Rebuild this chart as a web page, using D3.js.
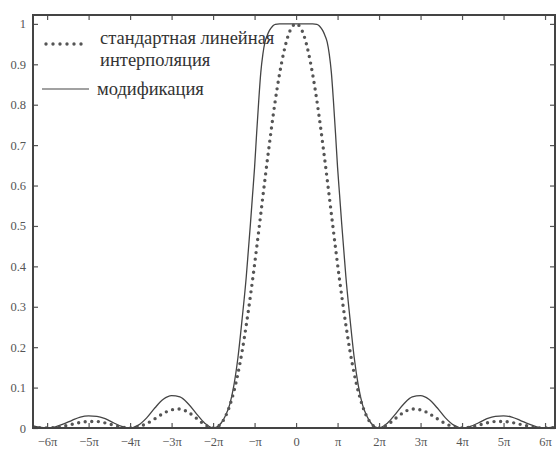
<!DOCTYPE html>
<html><head><meta charset="utf-8">
<script src="https://cdn.jsdelivr.net/npm/d3@7"></script>
<style>body{margin:0;background:#fff} text{font-family:"Liberation Serif","DejaVu Serif","Times New Roman",serif;}</style>
</head><body><svg id="c" width="557" height="451"></svg>
<script>
// x in multiples of π (positive half; curves are mirrored)
const xs      = [0,0.1,0.2,0.3,0.4,0.5,0.55,0.6,0.65,0.7,0.75,0.8,0.85,0.9,0.95,1.0,1.05,1.1,1.15,1.2,1.3,1.4,1.5,1.6,1.7,1.8,1.9,2.0,2.2,2.4,2.6,2.8,3.0,3.2,3.4,3.6,3.8,4.0,4.2,4.4,4.6,4.8,5.0,5.2,5.4,5.6,5.8,6.0,6.2,6.34];
const linear  = [1,0.992,0.968,0.928,0.875,0.811,0.775,0.737,0.697,0.657,0.615,0.573,0.530,0.488,0.446,0.405,0.365,0.327,0.290,0.255,0.190,0.135,0.090,0.055,0.029,0.012,0.003,0,0.008,0.024,0.039,0.047,0.045,0.036,0.023,0.011,0.003,0,0.002,0.007,0.0125,0.016,0.0162,0.0136,0.009,0.0045,0.001,0,0.001,0.0026];
const modif   = [1,1,1,1,1,0.999,0.996,0.99,0.982,0.97,0.955,0.925,0.88,0.81,0.73,0.645,0.575,0.505,0.44,0.375,0.27,0.175,0.105,0.058,0.031,0.013,0.003,0,0.012,0.035,0.06,0.077,0.08,0.071,0.05,0.025,0.007,0,0.004,0.013,0.023,0.029,0.03,0.027,0.019,0.01,0.003,0,0.002,0.005];
const xTicks = [-6,-5,-4,-3,-2,-1,0,1,2,3,4,5,6];
const xTickLabels = ["−6π","−5π","−4π","−3π","−2π","−π","0","π","2π","3π","4π","5π","6π"];
const yTicks = [0,0.1,0.2,0.3,0.4,0.5,0.6,0.7,0.8,0.9,1];
const yTickLabels = ["0","0.1","0.2","0.3","0.4","0.5","0.6","0.7","0.8","0.9","1"];
const legendLabels = [["стандартная линейная","интерполяция"],["модификация"]];

const L=33,R=555,T=15,B=428;
const x = d3.scaleLinear().domain([-6.34,6.24]).range([L,R]);
const y = d3.scaleLinear().domain([0,1.022]).range([B,T]);
const svg = d3.select("#c");

function mirror(vals){
  const pts=[];
  for(let i=xs.length-1;i>0;i--) pts.push([-xs[i],vals[i]]);
  for(let i=0;i<xs.length;i++) pts.push([xs[i],vals[i]]);
  return pts;
}
svg.append("clipPath").attr("id","clip").append("rect").attr("x",L).attr("y",T).attr("width",R-L).attr("height",B-T);
const line = d3.line().x(d=>x(d[0])).y(d=>y(d[1])).curve(d3.curveMonotoneX);
const g = svg.append("g").attr("clip-path","url(#clip)");
g.append("path").datum(mirror(modif)).attr("d",line).attr("fill","none").attr("stroke","#444").attr("stroke-width",1.3);
g.append("path").datum(mirror(linear)).attr("d",line).attr("fill","none").attr("stroke","#555")
 .attr("stroke-width",3.4).attr("stroke-linecap","round").attr("stroke-dasharray","0 6.6");

// axes
const ax = svg.append("g");
ax.append("g").attr("transform",`translate(0,${B})`)
  .call(d3.axisBottom(x).tickValues(xTicks).tickSize(-5).tickPadding(9).tickFormat((d,i)=>xTickLabels[i]));
ax.append("g").attr("transform",`translate(0,${T})`)
  .call(d3.axisTop(x).tickValues(xTicks).tickSize(-5).tickFormat(""));
ax.append("g").attr("transform",`translate(${L},0)`)
  .call(d3.axisLeft(y).tickValues(yTicks).tickSize(-5).tickPadding(7).tickFormat((d,i)=>yTickLabels[i]));
ax.append("g").attr("transform",`translate(${R},0)`)
  .call(d3.axisRight(y).tickValues(yTicks).tickSize(-5).tickFormat(""));
ax.selectAll(".domain").remove();
ax.selectAll(".tick line").attr("stroke","#555").attr("stroke-width",1.2);
ax.selectAll(".tick text").attr("font-size",12.5).attr("fill","#555");
svg.append("rect").attr("x",L).attr("y",T).attr("width",R-L).attr("height",B-T)
  .attr("fill","none").attr("stroke","#444").attr("stroke-width",2);

// legend
const lg = svg.append("g");
lg.append("line").attr("x1",46).attr("x2",88).attr("y1",44).attr("y2",44)
  .attr("stroke","#555").attr("stroke-width",3.4).attr("stroke-linecap","round").attr("stroke-dasharray","0 7");
lg.append("line").attr("x1",42).attr("x2",89).attr("y1",89).attr("y2",89).attr("stroke","#444").attr("stroke-width",1.2);
const t1 = lg.append("text").attr("font-size",18.5).attr("fill","#333");
t1.append("tspan").attr("x",100).attr("y",44).text(legendLabels[0][0]);
t1.append("tspan").attr("x",100).attr("y",66).text(legendLabels[0][1]);
lg.append("text").attr("font-size",18.5).attr("fill","#333").attr("x",97).attr("y",95).text(legendLabels[1][0]);
</script></body></html>
